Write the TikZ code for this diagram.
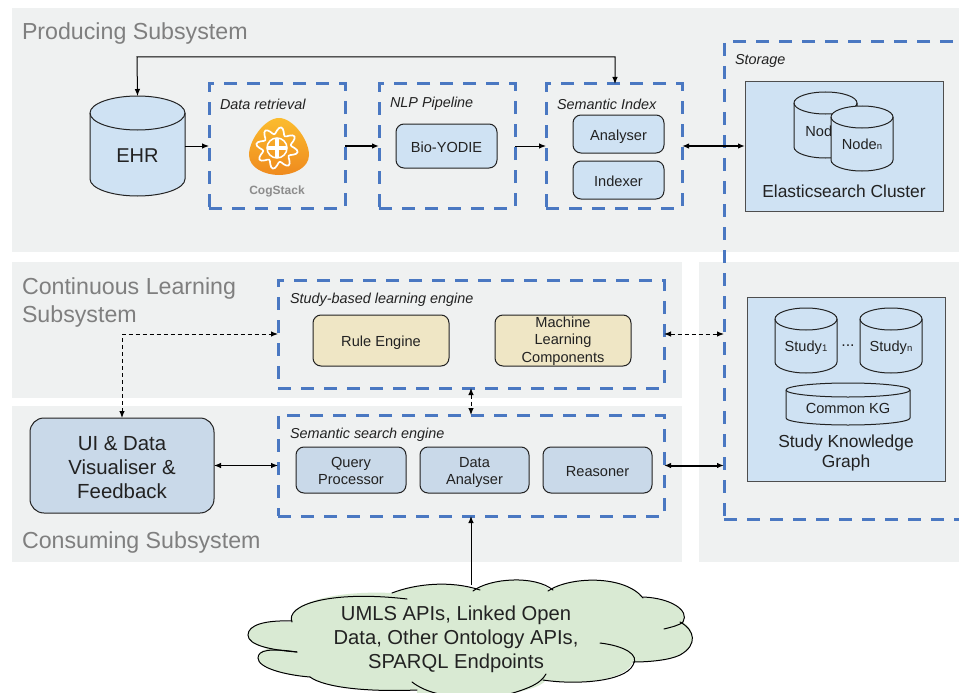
\documentclass[tikz,border=0pt]{standalone}
\usepackage{fontspec}
\setmainfont{Liberation Sans}
\usetikzlibrary{arrows.meta}
\definecolor{panelbg}{HTML}{EFF1F1}
\definecolor{dashblue}{HTML}{4A78C2}
\definecolor{lblue}{HTML}{CFE2F3}
\definecolor{mblue}{HTML}{C9D9E9}
\definecolor{tan}{HTML}{EFE6C5}
\definecolor{cloudg}{HTML}{D9EAD3}
\definecolor{ink}{HTML}{222222}
\definecolor{titlegrey}{HTML}{7F7F7F}
\definecolor{cogtext}{HTML}{8C8C8C}
\definecolor{orangetop}{HTML}{FBBC2E}
\definecolor{orangebot}{HTML}{EF8A1E}
\tikzset{
  every node/.style={inner sep=0pt,outer sep=0pt,text=ink},
  boxed/.style={anchor=north west},
  panel/.style={boxed,fill=panelbg},
  dashbox/.style={boxed,draw=dashblue,line width=3pt,dash pattern=on 13pt off 10pt},
  rbox/.style={boxed,draw=ink,line width=1pt,rounded corners=8pt,align=center,font=\fontsize{14.6}{17.5}\selectfont,
    execute at begin node={\rule[-.2em]{0pt}{1.25em}},execute at end node={\rule[-.2em]{0pt}{0pt}}},
  sbox/.style={boxed,draw=ink!80,line width=1pt,fill=lblue,align=center},
  title/.style={anchor=west,align=left,text=titlegrey,font=\fontsize{23.2}{27.5}\selectfont},
  tag/.style={anchor=west,font=\itshape\fontsize{14.4}{16}\selectfont},
  conn/.style={draw=black,line width=1pt},
  thick conn/.style={draw=black,line width=2pt},
  dash conn/.style={draw=black,line width=1pt,dash pattern=on 4pt off 3pt},
  tip/.style={-{Latex[length=7pt,width=5.5pt]}},
  tips/.style={{Latex[length=7pt,width=5.5pt]}-{Latex[length=7pt,width=5.5pt]}},
  cloudline/.style={draw=black,line width=1pt,line cap=round},
}
\newcommand{\subsm}[1]{{\fontsize{9.5}{9.5}\selectfont #1}}
\newcommand{\topstrut}[1]{\rule{0pt}{#1}}
% name, x, y, w, h, ry, text, font size
\newcommand{\cyl}[8]{%
  \pgfmathsetmacro{\rxv}{#4/2}%
  \filldraw[draw=ink,line width=1pt,fill=lblue] (#2,#3+#6) arc[start angle=180,end angle=360,x radius=\rxv,y radius=#6] -- (#2+#4,#3+#5-#6) arc[start angle=0,end angle=180,x radius=\rxv,y radius=#6] -- cycle;
  \draw[draw=ink,line width=1pt] (#2,#3+#6) arc[start angle=180,end angle=0,x radius=\rxv,y radius=#6];
  \node[boxed,minimum width=#4pt,minimum height=#5pt,font=\fontsize{#8}{#8}\selectfont] (#1) at (#2,#3) {\raisebox{\dimexpr-0.36em-#6pt/2-0.5pt\relax}[0pt][0pt]{#7}};
}
\begin{document}
\begin{tikzpicture}[x=1pt,y=-1pt]
\clip (0,0) rectangle (959,693);
\fill[white] (0,0) rectangle (959,693);
% panels
\node[panel,minimum width=947pt,minimum height=244pt] (pprod) at (12,8) {};
\node[panel,minimum width=670pt,minimum height=136pt] (pcont) at (12,262) {};
\node[panel,minimum width=670pt,minimum height=156pt] (pcons) at (12,406) {};
\node[panel,minimum width=260pt,minimum height=300pt] (pstor) at (699,262) {};
% titles
\node[title] (tprod) at (22,34) {Producing Subsystem};
\node[title] (tcont) at (22,302.5) {Continuous Learning\\Subsystem};
\node[title] (tcons) at (22,542) {Consuming Subsystem};
% dashed containers
\node[dashbox,minimum width=136pt,minimum height=124pt] (data) at (209,84) {};
\node[dashbox,minimum width=136pt,minimum height=124pt] (nlp) at (379,84) {};
\node[dashbox,minimum width=136pt,minimum height=124pt] (index) at (546,84) {};
\node[dashbox,minimum width=290pt,minimum height=477pt] (storage) at (724,42) {};
\node[dashbox,minimum width=386pt,minimum height=108pt] (study) at (278,280) {};
\node[dashbox,minimum width=386pt,minimum height=101pt] (search) at (278,415) {};
% tags
\node[tag] (tdata) at (220,104) {Data retrieval};
\node[tag] (tnlp) at (390,104) {NLP Pipeline};
\node[tag] (tindex) at (557,104) {Semantic Index};
\node[tag] (tstor) at (735,61) {Storage};
\node[tag] (tstudy) at (290,300) {Study-based learning engine};
\node[tag] (tsearch) at (290,435) {Semantic search engine};
% EHR
\cyl{ehr}{90}{96}{95}{100}{17}{EHR}{20}
% logo
\shade[top color=orangetop,bottom color=orangebot] (279,118) .. controls (265,118) and (249,140) .. (249,155) .. controls (249,168) and (265,175) .. (279,175) .. controls (293,175) and (309,168) .. (309,155) .. controls (309,140) and (293,118) .. (279,118) -- cycle;
\draw[white,line width=1.7pt,line join=round] plot[smooth cycle,samples=64,domain=0:354.375] ({277+(17.5+3.5*sin(8*\x))*cos(\x)},{148+(17.5+3.5*sin(8*\x))*sin(\x)});
\draw[white,line width=1.5pt] (277,148) circle (10);
\draw[white,line width=3.6pt] (268,148) -- (286,148) (277,139) -- (277,157);
\node[font=\bfseries\fontsize{12}{12}\selectfont,text=cogtext] (cog) at (277,191) {CogStack};
% inner boxes
\node[rbox,fill=lblue,minimum width=101pt,minimum height=44pt] (bio) at (396,124) {Bio-YODIE};
\node[rbox,fill=lblue,minimum width=91pt,minimum height=38pt] (ana) at (573,115) {Analyser};
\node[rbox,fill=lblue,minimum width=91pt,minimum height=38pt] (idx) at (573,161) {Indexer};
\node[sbox,minimum width=198pt,minimum height=129pt] (elastic) at (745,82) {};
\cyl{node1}{794}{92}{63}{66}{11}{Node\subsm{1}}{14.6}
\cyl{noden}{831}{106}{62}{65}{11}{Node\subsm{n}}{14.6}
\node[font=\fontsize{17.4}{20}\selectfont] (telastic) at (844,191) {Elasticsearch Cluster};
\node[sbox,minimum width=198pt,minimum height=184pt] (kg) at (747,297) {};
\cyl{study1}{775}{308}{62}{65}{11}{Study\subsm{1}}{14.6}
\cyl{studyn}{860}{308}{62}{65}{11}{Study\subsm{n}}{14.6}
\node[font=\fontsize{16}{16}\selectfont] (dots) at (848,346) {...};
\cyl{common}{786}{383}{124}{42}{7}{Common KG}{14.6}
\node[align=center,font=\fontsize{17.4}{20.5}\selectfont] (tkg) at (846,453) {Study Knowledge\\Graph};
\node[rbox,fill=tan,minimum width=136pt,minimum height=51pt] (rule) at (313,315) {Rule Engine};
\node[rbox,fill=tan,minimum width=136pt,minimum height=51pt] (ml) at (495,315) {\topstrut{11.5pt}Machine\\Learning\\Components};
\node[rbox,fill=mblue,minimum width=184pt,minimum height=95pt,rounded corners=14pt,font=\fontsize{20.4}{24}\selectfont] (ui) at (30,418) {\topstrut{23pt}UI \& Data\\Visualiser \&\\Feedback};
\node[rbox,fill=mblue,minimum width=110pt,minimum height=46pt] (query) at (296,447) {\topstrut{15pt}Query\\Processor};
\node[rbox,fill=mblue,minimum width=109pt,minimum height=46pt] (analyser) at (420,447) {\topstrut{15pt}Data\\Analyser};
\node[rbox,fill=mblue,minimum width=109pt,minimum height=46pt] (reason) at (543,447) {Reasoner};
% cloud
\fill[cloudg] (292,622) .. controls (285,605) and (330,590) .. (392,593) .. controls (415,584) and (450,580) .. (476,590) .. controls (490,578) and (535,575) .. (550,590) .. controls (570,576) and (625,575) .. (643,598) .. controls (670,598) and (690,610) .. (683,622) .. controls (695,630) and (698,645) .. (680,655) .. controls (670,660) and (650,662) .. (633,662) .. controls (625,682) and (575,685) .. (546,680) .. controls (540,688) and (525,690) .. (495,698) -- (495,700) -- (417,700) -- (417,690) .. controls (370,692) and (325,688) .. (310,677) .. controls (285,675) and (258,668) .. (258,658) .. controls (258,652) and (262,650) .. (268,649) .. controls (255,645) and (248,642) .. (248,635) .. controls (248,625) and (265,620) .. (292,622) -- cycle;
\path[cloudline] (292,622) .. controls (285,605) and (330,590) .. (407,599);
\path[cloudline] (392,593) .. controls (415,584) and (450,580) .. (480,590);
\path[cloudline] (473,591) .. controls (490,578) and (535,575) .. (553,590);
\path[cloudline] (548,591) .. controls (570,576) and (625,575) .. (643,598);
\path[cloudline] (643,597) .. controls (670,598) and (690,610) .. (683,622) .. controls (680,625) and (672,627) .. (664,629);
\path[cloudline] (680,622) .. controls (695,630) and (698,645) .. (680,655) .. controls (670,660) and (650,662) .. (633,662);
\path[cloudline] (600,643) .. controls (625,646) and (640,655) .. (633,665) .. controls (625,682) and (575,685) .. (543,680);
\path[cloudline] (546,674) .. controls (540,685) and (525,690) .. (495,698);
\path[cloudline] (412,682) .. controls (425,692) and (440,695) .. (470,700);
\path[cloudline] (297,652) .. controls (270,648) and (258,650) .. (258,658) .. controls (258,668) and (285,675) .. (310,677);
\path[cloudline] (310,677) .. controls (325,688) and (370,692) .. (417,690);
\path[cloudline] (292,621) .. controls (265,620) and (248,625) .. (248,635) .. controls (248,645) and (270,650) .. (297,652);
\node[align=center,font=\fontsize{20.2}{24}\selectfont] (cloud) at (456,639) {UMLS APIs, Linked Open\\Data, Other Ontology APIs,\\SPARQL Endpoints};
\coordinate (cloudtop) at (471,585);
\coordinate (loop1) at (137,57);
% connectors
\draw[conn,tips] (ehr.north) -- (loop1) -| (index.north -| 615,0);
\draw[conn,tip] (ehr.east |- data.west) -- (data.west);
\draw[thick conn,tip] (data.east) -- (nlp.west);
\draw[conn,tip] (nlp.east) -- (index.west);
\draw[thick conn,tips] (index.east) -- (elastic.west |- index.east);
\draw[dash conn,tips] (study.east) -- (storage.west |- study.east);
\draw[dash conn,tips] (study.south -| 471,0) -- (search.north -| 471,0);
\draw[dash conn,tips] (ui.north) |- (study.west);
\draw[conn,tips] (ui.east) -- (search.west |- ui.east);
\draw[thick conn,tips] (search.east) -- (storage.west |- search.east);
\draw[conn,tip] (cloudtop) -- (search.south -| cloudtop);
\end{tikzpicture}
\end{document}
